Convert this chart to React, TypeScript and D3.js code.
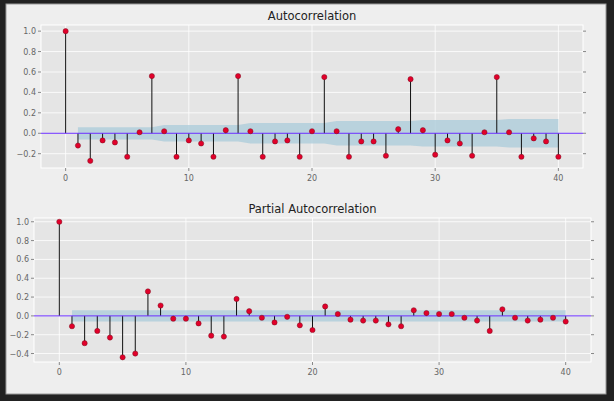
import React from 'react'
import * as d3 from 'd3'

const lags = d3.range(0, 41)
const acfValues = [1, -0.12, -0.27, -0.07, -0.09, -0.23, 0.01, 0.56, 0.02, -0.23, -0.07, -0.1, -0.23, 0.03, 0.56, 0.02, -0.23, -0.08, -0.07, -0.23, 0.02, 0.55, 0.02, -0.23, -0.08, -0.08, -0.22, 0.04, 0.53, 0.03, -0.21, -0.07, -0.1, -0.22, 0.01, 0.55, 0.01, -0.23, -0.05, -0.08, -0.23]
const acfBand = [0, 0.06, 0.06, 0.06, 0.06, 0.06, 0.06, 0.06, 0.08, 0.08, 0.08, 0.08, 0.08, 0.08, 0.08, 0.1, 0.1, 0.1, 0.1, 0.1, 0.1, 0.1, 0.12, 0.12, 0.12, 0.12, 0.12, 0.12, 0.12, 0.13, 0.13, 0.13, 0.13, 0.13, 0.13, 0.13, 0.14, 0.14, 0.14, 0.14, 0.14]
const pacfValues = [1, -0.11, -0.29, -0.16, -0.23, -0.44, -0.4, 0.26, 0.11, -0.03, -0.03, -0.08, -0.21, -0.22, 0.18, 0.05, -0.02, -0.07, -0.01, -0.1, -0.15, 0.1, 0.02, -0.04, -0.05, -0.05, -0.09, -0.11, 0.06, 0.03, 0.02, 0.02, -0.02, -0.05, -0.16, 0.07, -0.02, -0.05, -0.04, -0.02, -0.06]
const pacfBand = lags.map(i => (i === 0 ? 0 : 0.06))
const xTicks = [0, 10, 20, 30, 40]
const acfTicks = [-0.2, 0, 0.2, 0.4, 0.6, 0.8, 1.0]
const pacfTicks = [-0.4, -0.2, 0, 0.2, 0.4, 0.6, 0.8, 1.0]

type PanelProps = {
  title: string
  values: number[]
  band: number[]
  yDomain: [number, number]
  yTicks: number[]
  left: number
  right: number
  top: number
  bottom: number
}

const Panel: React.FunctionComponent<PanelProps> = ({ title, values, band, yDomain, yTicks, left, right, top, bottom }) => {
  const x = d3.scaleLinear().domain([-2, 42]).range([left, right])
  const y = d3.scaleLinear().domain(yDomain).range([bottom, top])
  const area = d3
    .area<number>()
    .x(i => x(i))
    .y0(i => y(-band[i]))
    .y1(i => y(band[i]))
    .curve(d3.curveLinear)
  const bandLags = lags.slice(1)
  const font = 'DejaVu Sans, sans-serif'
  return (
    <g>
      <rect x={left} y={top} width={right - left} height={bottom - top} fill="#e5e5e5" stroke="#ffffff" />
      {xTicks.map(t => (
        <g key={'x' + t}>
          <line x1={x(t)} x2={x(t)} y1={top} y2={bottom} stroke="#ffffff" strokeWidth={0.8} />
          <line x1={x(t)} x2={x(t)} y1={bottom} y2={bottom + 3} stroke="#888" />
          <text x={x(t)} y={bottom + 13} textAnchor="middle" fontSize={8} fill="#666" fontFamily={font}>{t}</text>
        </g>
      ))}
      {yTicks.map(t => (
        <g key={'y' + t}>
          <line x1={left} x2={right} y1={y(t)} y2={y(t)} stroke="#ffffff" strokeWidth={0.8} />
          <line x1={left - 3} x2={left} y1={y(t)} y2={y(t)} stroke="#888" />
          <line x1={right} x2={right + 3} y1={y(t)} y2={y(t)} stroke="#888" />
          <text x={left - 5} y={y(t) + 3} textAnchor="end" fontSize={8} fill="#666" fontFamily={font}>{t === 0 ? '0.0' : d3.format('.1f')(t).replace('-', '−')}</text>
        </g>
      ))}
      <path d={area(bandLags) || ''} fill="#a9cbd9" fillOpacity={0.75} />
      {values.map((v, i) => (
        <line key={'s' + i} x1={x(i)} x2={x(i)} y1={y(0)} y2={y(v)} stroke="#111" strokeWidth={1} />
      ))}
      <line x1={left} x2={right} y1={y(0)} y2={y(0)} stroke="#6a2cff" strokeWidth={1} />
      {values.map((v, i) => (
        <circle key={'c' + i} cx={x(i)} cy={y(v)} r={2.6} fill="#e2002a" stroke="#7a1020" strokeWidth={0.5} />
      ))}
      <text x={(left + right) / 2} y={top - 5} textAnchor="middle" fontSize={11.5} fill="#222" fontFamily={font}>{title}</text>
    </g>
  )
}

const App: React.FunctionComponent = () => (
  <svg width={614} height={401} style={{ position: 'absolute', left: 0, top: 0 }}>
    <rect width={614} height={401} fill="#222" />
    <rect x={6} y={4} width={600} height={390} fill="#eeeeee" stroke="#999" />
    <Panel title="Autocorrelation" values={acfValues} band={acfBand} yDomain={[-0.34, 1.06]} yTicks={acfTicks} left={41} right={583} top={25} bottom={168} />
    <Panel title="Partial Autocorrelation" values={pacfValues} band={pacfBand} yDomain={[-0.49, 1.04]} yTicks={pacfTicks} left={34} right={591} top={218} bottom={362} />
  </svg>
)

export default App
